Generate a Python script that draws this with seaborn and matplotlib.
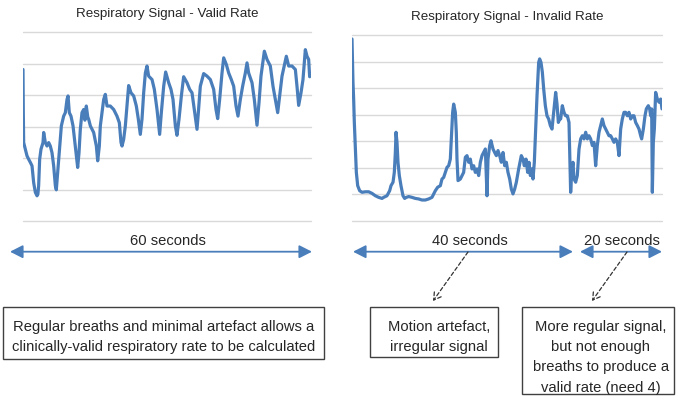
import matplotlib
matplotlib.use("Agg")
import matplotlib.pyplot as plt
import seaborn as sns
import pandas as pd
from matplotlib.patches import Rectangle

# ---------------- data ----------------
valid_time = [0.0, 0.07, 0.14, 0.49, 0.83, 1.18, 1.53, 1.88, 2.22, 2.57,
              2.92, 3.10, 3.26, 3.47, 3.75, 4.17, 4.31, 4.65, 5.00, 5.35,
              5.69, 6.04, 6.39, 6.74, 6.94, 7.22, 7.64, 7.99, 8.47, 8.82,
              9.17, 9.38, 9.65, 10.00, 10.42, 10.90, 11.39, 11.67, 11.94, 12.29,
              12.64, 12.90, 13.19, 13.50, 13.68, 14.03, 14.72, 15.28, 15.56, 15.90,
              16.11, 16.46, 16.81, 17.15, 17.50, 18.19, 18.89, 19.58, 20.07, 20.42,
              20.63, 20.97, 21.32, 21.67, 22.01, 22.50, 23.06, 23.61, 24.03, 24.44,
              24.79, 25.14, 25.49, 25.83, 26.18, 26.88, 27.36, 27.92, 28.47, 28.82,
              29.31, 29.72, 30.35, 30.83, 31.25, 31.74, 32.08, 32.50, 32.99, 33.47,
              34.17, 34.72, 35.21, 35.69, 36.25, 36.53, 36.94, 37.64, 38.33, 39.03,
              39.72, 40.21, 40.56, 40.97, 41.46, 41.81, 42.36, 42.85, 43.40, 43.89,
              44.38, 44.79, 45.28, 45.76, 46.32, 46.67, 47.01, 47.71, 48.19, 48.75,
              49.17, 49.58, 50.28, 50.83, 51.53, 52.08, 52.57, 53.06, 53.47, 53.96,
              54.86, 55.35, 56.04, 56.74, 57.08, 57.43, 57.92, 58.33, 58.82, 59.17,
              59.51, 59.72]
valid_signal = [4.81, 3.40, 2.49, 2.28, 2.07, 1.96, 1.86, 1.75, 1.22, 0.91,
                0.80, 0.85, 1.12, 1.96, 2.28, 2.49, 2.81, 2.49, 2.38, 2.49,
                2.38, 2.17, 1.75, 1.12, 0.99, 1.54, 2.38, 3.02, 3.33, 3.44,
                3.86, 3.97, 3.44, 3.33, 3.02, 2.38, 1.70, 2.17, 2.91, 3.44,
                3.54, 3.20, 3.65, 3.30, 3.23, 3.02, 2.81, 2.38, 1.91, 2.38,
                3.02, 3.44, 3.86, 4.02, 3.65, 3.65, 3.54, 3.33, 3.12, 2.49,
                2.38, 2.59, 3.02, 3.65, 4.30, 4.07, 3.97, 3.65, 3.23, 2.75,
                3.23, 4.07, 4.70, 4.92, 4.60, 4.49, 4.18, 3.54, 2.75, 3.44,
                4.28, 4.73, 4.39, 4.18, 3.86, 3.02, 2.72, 3.23, 3.97, 4.58,
                4.39, 4.18, 4.07, 3.54, 2.91, 3.44, 4.28, 4.68, 4.60, 4.49,
                4.18, 3.54, 3.25, 3.86, 4.70, 5.18, 4.97, 4.70, 4.49, 4.28,
                3.65, 3.33, 3.86, 4.28, 4.70, 5.02, 4.70, 4.39, 3.86, 3.04,
                3.76, 4.60, 5.39, 5.13, 4.92, 4.28, 3.86, 3.44, 3.97, 4.60,
                5.23, 4.92, 4.92, 4.81, 4.28, 3.67, 4.07, 4.49, 5.44, 5.23,
                5.13, 4.58]

invalid_time = [0.0, 0.19, 0.32, 0.45, 0.65, 0.84, 1.10, 1.48, 1.94, 2.58,
                3.23, 3.87, 4.52, 5.16, 5.81, 6.13, 6.77, 7.29, 7.55, 7.94,
                8.19, 8.39, 8.52, 8.71, 8.90, 9.16, 9.48, 9.87, 10.19, 10.52,
                10.97, 11.61, 12.26, 12.90, 13.55, 14.19, 14.84, 15.48, 16.13, 16.58,
                17.10, 17.42, 17.74, 18.06, 18.39, 18.71, 19.03, 19.23, 19.48, 19.68,
                20.00, 20.19, 20.32, 20.52, 20.97, 21.61, 21.94, 22.26, 22.58, 22.90,
                23.23, 23.55, 23.87, 24.19, 24.52, 24.84, 25.16, 25.48, 25.81, 26.13,
                26.32, 26.65, 26.90, 27.29, 27.61, 27.94, 28.26, 28.58, 28.90, 29.23,
                29.55, 29.87, 30.19, 30.52, 30.84, 31.16, 31.48, 31.81, 32.26, 32.77,
                33.10, 33.35, 33.68, 34.00, 34.26, 34.52, 34.77, 35.03, 35.29, 35.55,
                35.81, 36.13, 36.32, 36.58, 36.84, 37.10, 37.42, 37.74, 38.06, 38.39,
                38.71, 39.03, 39.42, 39.68, 39.94, 40.19, 40.39, 40.71, 41.03, 41.35,
                41.68, 42.00, 42.19, 42.32, 42.52, 42.77, 42.97, 43.29, 43.61, 43.94,
                44.26, 44.58, 44.90, 45.23, 45.55, 45.87, 46.19, 46.52, 46.84, 47.16,
                47.48, 47.81, 48.13, 48.45, 48.77, 49.10, 49.42, 49.74, 50.06, 50.39,
                50.71, 51.03, 51.35, 51.68, 52.00, 52.32, 52.65, 52.97, 53.29, 53.61,
                53.94, 54.26, 54.58, 54.90, 55.23, 55.55, 55.87, 56.06, 56.39, 56.71,
                56.97, 57.35, 57.61, 57.81, 58.00, 58.13, 58.32, 58.52, 58.77, 59.10,
                59.42, 59.74, 60.00]
invalid_signal = [6.85, 5.22, 4.59, 3.71, 2.71, 1.83, 1.33, 1.14, 1.08, 1.10,
                  1.10, 1.04, 0.95, 0.89, 0.85, 0.89, 0.95, 1.14, 1.33, 1.46,
                  1.83, 2.58, 3.34, 2.96, 2.21, 1.71, 1.33, 0.95, 0.85, 0.89,
                  0.92, 0.89, 0.85, 0.83, 0.79, 0.79, 0.83, 0.89, 1.14, 1.27,
                  1.33, 1.58, 1.64, 1.83, 2.02, 2.08, 2.33, 3.09, 4.09, 4.40,
                  4.09, 3.34, 2.33, 1.52, 1.58, 1.83, 2.40, 2.46, 2.21, 2.33,
                  1.96, 2.08, 1.83, 1.96, 1.71, 2.21, 2.46, 2.58, 2.71, 0.95,
                  2.33, 2.84, 3.02, 2.71, 2.58, 2.46, 2.65, 2.46, 2.21, 2.58,
                  2.08, 2.21, 1.83, 1.58, 1.20, 1.02, 1.20, 1.46, 1.96, 2.46,
                  2.33, 2.08, 2.33, 1.83, 2.21, 1.71, 1.96, 1.58, 2.21, 3.46,
                  4.72, 5.97, 6.10, 5.97, 5.60, 4.97, 4.34, 3.96, 3.84, 3.59,
                  3.46, 4.09, 4.84, 4.40, 3.71, 3.84, 3.84, 4.34, 4.09, 3.96,
                  3.96, 3.71, 2.21, 1.08, 1.83, 2.21, 1.58, 1.46, 1.71, 2.71,
                  3.09, 3.21, 3.09, 3.34, 3.09, 3.21, 3.09, 2.84, 2.96, 2.08,
                  2.84, 3.34, 3.59, 3.84, 3.59, 3.46, 3.34, 3.21, 3.21, 3.09,
                  2.96, 3.09, 2.96, 2.46, 3.46, 3.84, 4.09, 4.09, 3.96, 4.09,
                  3.84, 3.96, 3.96, 3.71, 3.59, 3.46, 3.21, 3.09, 3.46, 3.96,
                  4.22, 4.34, 4.22, 3.96, 4.22, 1.08, 2.96, 3.46, 4.84, 4.59,
                  4.47, 4.59, 4.22]

titles = ["Respiratory Signal - Valid Rate", "Respiratory Signal - Invalid Rate"]
duration_labels = ["60 seconds", "40 seconds", "20 seconds"]
box_lines = [
    ["Regular breaths and minimal artefact allows a",
     "clinically-valid respiratory rate to be calculated"],
    ["Motion artefact,", "irregular signal"],
    ["More regular signal,", "but not enough",
     "breaths to produce a", "valid rate (need 4)"],
]

# ---------------- style ----------------
sns.set_theme(style="white")
plt.rcParams["font.family"] = ["Liberation Sans", "DejaVu Sans"]

LINE = "#4a7ebb"
GRID = "#d9d9d9"
TXT = "#262626"

W, H = 685, 406
fig = plt.figure(figsize=(W / 100, H / 100), dpi=100)
fig.patch.set_facecolor("white")


def px_axes(x0, x1, y_top, y_bot):
    return fig.add_axes([x0 / W, 1 - y_bot / H, (x1 - x0) / W, (y_bot - y_top) / H])


ax1 = px_axes(23, 311, 33, 222)
ax2 = px_axes(352, 662, 36, 222)

df_valid = pd.DataFrame({"t": valid_time, "v": valid_signal})
df_invalid = pd.DataFrame({"t": invalid_time, "v": invalid_signal})

for ax, df, ymax in [(ax1, df_valid, 6), (ax2, df_invalid, 7)]:
    sns.lineplot(data=df, x="t", y="v", ax=ax, color=LINE, linewidth=2.3,
                 sort=False, estimator=None)
    ax.set_xlim(0, 60)
    ax.set_ylim(0, ymax)
    ax.set_yticks(range(ymax + 1))
    ax.set_xticks([])
    ax.tick_params(left=False, bottom=False, labelleft=False, labelbottom=False)
    ax.grid(axis="y", color=GRID, linewidth=1.0)
    ax.set_axisbelow(True)
    ax.set_xlabel("")
    ax.set_ylabel("")
    for s in ax.spines.values():
        s.set_visible(False)
    ax.set_facecolor("none")
    for gl in ax.get_ygridlines():
        gl.set_clip_on(False)

# ---------------- overlay for annotations ----------------
ov = fig.add_axes([0, 0, 1, 1])
ov.set_xlim(0, W)
ov.set_ylim(H, 0)
ov.axis("off")
ov.set_facecolor("none")

ov.text(167, 16.5, titles[0], ha="center", va="baseline", fontsize=9.6, color=TXT)
ov.text(507, 20, titles[1], ha="center", va="baseline", fontsize=9.6, color=TXT)

# duration arrows
arrow_kw = dict(arrowstyle="<|-|>,head_length=0.55,head_width=0.28", color=LINE,
                lw=1.3, mutation_scale=14, shrinkA=0, shrinkB=0)
for (xa, xb) in [(10, 312), (353, 573), (580, 662)]:
    ov.annotate("", xy=(xb, 252.7), xytext=(xa, 252.7), arrowprops=arrow_kw)

for (xc, lab) in zip([168, 470, 622], duration_labels):
    ov.text(xc, 245.5, lab, ha="center", va="baseline", fontsize=10.6, color=TXT)

# dashed pointer arrows
dash_kw = dict(arrowstyle="->,head_length=0.5,head_width=0.3", color="#333333",
               lw=0.9, linestyle=(0, (3, 2)), mutation_scale=10, shrinkA=0, shrinkB=0)
ov.annotate("", xy=(433, 302), xytext=(468, 253), arrowprops=dash_kw)
ov.annotate("", xy=(592, 302), xytext=(627, 253), arrowprops=dash_kw)

# text boxes
boxes = [(3, 308, 324, 360), (370, 308, 498, 358), (522, 308, 674, 395)]
text_cx = [163.5, 439, 601]
for (x0, y0, x1, y1), cx, lines in zip(boxes, text_cx, box_lines):
    ov.add_patch(Rectangle((x0, y0), x1 - x0, y1 - y0, fill=False,
                           edgecolor="#404040", linewidth=1.0))
    for i, ln in enumerate(lines):
        ov.text(cx, 331 + i * 20.2, ln, ha="center", va="baseline",
                fontsize=10.6, color=TXT)

fig.savefig("out.png", dpi=100, facecolor="white")
